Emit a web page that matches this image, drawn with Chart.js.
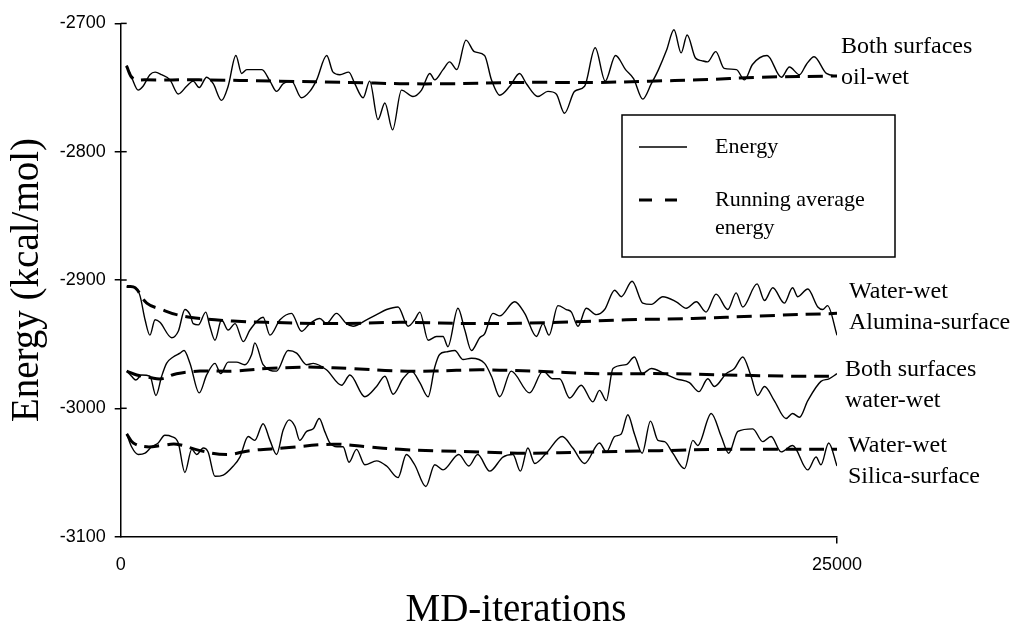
<!DOCTYPE html>
<html><head><meta charset="utf-8">
<script src="https://cdn.jsdelivr.net/npm/chart.js@4.4.0/dist/chart.umd.min.js"></script>
<style>html,body{margin:0;padding:0;background:#fff;}#wrap{width:1020px;height:634px;}</style>
</head><body><div id="wrap"><canvas id="c" width="1020" height="634"></canvas></div>
<script>
// ---- axis ticks ----
const xTicks = [0, 25000];
const yTicks = [-3100, -3000, -2900, -2800, -2700];

// ---- Both surfaces oil-wet ----
const oilX = [200,380,610,780,1020,1200,1430,1720,2010,2300,2530,2740,3000,3230,3520,3750,4020,4220,4400,4680,4930,5210,5440,5670,5960,6310,6600,6840,7190,7410,7650,7960,8170,8460,8690,8980,9220,9490,9800,10200,10500,10790,10960,11250,11480,11730,12050,12340,12700,12940,13230,13580,13920,14160,14560,14910,15200,15490,15840,16190,16560,16910,17270,17620,17900,18220,18520,18770,19050,19310,19560,19770,20060,20270,20480,20770,21060,21490,21770,22050,22560,23060,23340,23690,23930,24200,24630,25000];
const oilY = [-2733,-2742,-2752,-2749,-2740,-2738,-2740,-2744,-2755,-2749,-2745,-2750,-2742,-2747,-2760,-2749,-2725,-2739,-2736,-2736,-2736,-2745,-2753,-2747,-2745,-2758,-2753,-2744,-2725,-2738,-2740,-2738,-2747,-2758,-2745,-2775,-2762,-2783,-2752,-2757,-2752,-2739,-2744,-2736,-2730,-2736,-2713,-2722,-2725,-2744,-2756,-2749,-2739,-2747,-2757,-2753,-2755,-2770,-2753,-2749,-2719,-2745,-2725,-2736,-2743,-2759,-2747,-2736,-2721,-2705,-2723,-2709,-2727,-2729,-2730,-2722,-2735,-2736,-2744,-2732,-2725,-2742,-2734,-2740,-2732,-2726,-2739,-2741];
const oilAvgX = [200,430,850,2740,5550,8000,9740,11480,13920,16700,18450,20200,22300,25000];
const oilAvgY = [-2733,-2743,-2744,-2744,-2745,-2746,-2747,-2747,-2746,-2746,-2745,-2744,-2742,-2741];

// ---- Water-wet Alumina-surface ----
const aluX = [210,500,670,850,1020,1200,1370,1780,2010,2240,2420,2530,2710,2970,3110,3290,3520,3750,3990,4280,4510,4970,5210,5560,5960,6310,6600,6950,7180,7530,7880,8110,8580,8930,9280,9680,10030,10260,10440,10730,11020,11250,11420,11770,12010,12240,12530,12700,12990,13230,13750,14100,14510,14740,14950,15260,15550,15730,15960,16250,16600,16890,17240,17470,17850,18220,18520,18920,19390,19740,20090,20430,20780,21190,21480,21710,22210,22470,22760,23160,23450,23630,23980,24330,24500,24670,25000];
const aluY = [-2905,-2906,-2912,-2931,-2943,-2931,-2933,-2945,-2940,-2923,-2927,-2934,-2935,-2925,-2936,-2947,-2931,-2939,-2934,-2948,-2939,-2929,-2943,-2931,-2926,-2940,-2934,-2930,-2934,-2926,-2934,-2936,-2931,-2927,-2923,-2921,-2936,-2931,-2925,-2947,-2944,-2944,-2952,-2922,-2939,-2955,-2945,-2942,-2926,-2928,-2917,-2926,-2944,-2934,-2943,-2920,-2923,-2925,-2936,-2922,-2927,-2923,-2908,-2913,-2901,-2918,-2919,-2913,-2917,-2922,-2917,-2925,-2911,-2923,-2910,-2921,-2903,-2916,-2906,-2918,-2906,-2913,-2907,-2921,-2923,-2920,-2943];
const aluAvgX = [210,500,910,1430,1950,2770,3920,5090,7400,9740,12530,15320,17640,19970,22290,25000];
const aluAvgY = [-2905,-2906,-2918,-2923,-2927,-2930,-2932,-2933,-2934,-2933,-2934,-2933,-2931,-2930,-2928,-2926];

// ---- Both surfaces water-wet ----
const wwX = [210,380,530,730,1020,1230,1430,1600,1830,2070,2210,2420,2740,3000,3290,3490,3750,4040,4330,4570,4680,4970,5440,5840,6140,6490,6720,7180,7710,8000,8520,8930,9220,9510,9850,10150,10440,10730,10960,11130,11370,11660,11950,12240,12700,12940,13230,13630,14270,14740,15080,15320,15670,16070,16480,16710,16950,17180,17640,17930,18200,18520,18980,19390,19850,20180,20490,20720,21130,21420,21710,22000,22230,22470,22810,23220,23450,23690,23980,24440,24720,25000];
const wwY = [-2971,-2975,-2978,-2974,-2975,-2990,-2975,-2965,-2960,-2957,-2955,-2965,-2988,-2974,-2965,-2973,-2964,-2964,-2966,-2958,-2949,-2966,-2971,-2955,-2957,-2966,-2965,-2970,-2982,-2974,-2991,-2983,-2975,-2989,-2977,-2971,-2980,-2991,-2968,-2958,-2956,-2955,-2962,-2961,-2965,-2975,-2991,-2971,-2988,-2971,-2977,-2977,-2992,-2982,-2995,-2986,-2994,-2969,-2966,-2960,-2973,-2969,-2973,-2977,-2980,-2987,-2977,-2983,-2973,-2969,-2960,-2975,-2990,-2983,-2994,-3008,-3004,-3007,-2994,-2979,-2977,-2973];
const wwAvgX = [210,560,1020,1430,1950,2770,3930,5090,6250,6830,8000,9740,10900,12530,14360,16690,19010,21130,23450,25000];
const wwAvgY = [-2971,-2974,-2976,-2977,-2973,-2971,-2971,-2969,-2968,-2968,-2969,-2971,-2971,-2970,-2971,-2973,-2973,-2974,-2975,-2975];

// ---- Water-wet Silica-surface ----
const silX = [210,380,610,850,1080,1310,1540,1780,2010,2240,2480,2650,2880,3050,3290,3580,3930,4160,4450,4680,4970,5210,5440,5670,5880,6080,6250,6490,6720,6930,7120,7300,7550,7760,7970,8230,8520,8930,9280,9680,9970,10260,10650,10960,11250,11800,12150,12460,12880,13340,13690,13950,14210,14450,14850,15410,15780,16190,16710,16950,17240,17470,17700,17930,18200,18490,18750,18980,19270,19680,19970,20140,20610,20960,21220,21540,22060,22410,22700,23050,23450,23980,24270,24440,24710,25000];
const silY = [-3020,-3030,-3036,-3035,-3030,-3027,-3021,-3022,-3027,-3050,-3032,-3036,-3031,-3034,-3053,-3052,-3045,-3038,-3022,-3025,-3012,-3025,-3036,-3017,-3009,-3014,-3025,-3018,-3016,-3008,-3018,-3027,-3030,-3030,-3042,-3032,-3044,-3041,-3045,-3054,-3036,-3044,-3061,-3044,-3048,-3036,-3045,-3036,-3049,-3038,-3036,-3049,-3031,-3043,-3035,-3022,-3031,-3043,-3027,-3034,-3022,-3020,-3005,-3020,-3035,-3010,-3025,-3026,-3035,-3047,-3025,-3029,-3004,-3022,-3035,-3018,-3016,-3026,-3022,-3034,-3029,-3048,-3038,-3044,-3027,-3045];
const silAvgX = [210,440,910,1430,1950,2770,3700,4510,5670,7420,8580,9740,10900,12530,14160,16480,18800,21130,23450,25000];
const silAvgY = [-3020,-3027,-3030,-3029,-3028,-3033,-3036,-3033,-3031,-3028,-3030,-3032,-3033,-3034,-3035,-3034,-3033,-3032,-3032,-3032];

// ---- texts ----
const seriesLabels = [
  {lines: ['Both surfaces', 'oil-wet'], x: 841, y: 47},
  {lines: ['Water-wet', 'Alumina-surface'], x: 849, y: 292},
  {lines: ['Both surfaces', 'water-wet'], x: 845, y: 370},
  {lines: ['Water-wet', 'Silica-surface'], x: 848, y: 446}
];
const legendTexts = ['Energy', 'Running average', 'energy'];
const xTitle = 'MD-iterations';
const yTitle = 'Energy (kcal/mol)';

const zip = (xs, ys) => xs.map((x, i) => ({x: x, y: ys[i]}));
const SERIF = "'Liberation Serif', 'Times New Roman', serif";
const SANS = "'Liberation Sans', Arial, sans-serif";

function energyDs(xs, ys, name) {
  return {label: name, data: zip(xs, ys), borderColor: '#000', borderWidth: 1.4,
    pointRadius: 0, fill: false, cubicInterpolationMode: 'monotone'};
}
function avgDs(xs, ys, name) {
  return {label: name, data: zip(xs, ys), borderColor: '#000', borderWidth: 3,
    borderDash: [15, 8], pointRadius: 0, fill: false, tension: 0.4};
}

const textPlugin = {
  id: 'texts',
  afterDraw(chart) {
    const ctx = chart.ctx;
    const ca = chart.chartArea;
    const ys = chart.scales.y;
    ctx.save();
    // inner half of y ticks (ticks cross the axis)
    ctx.strokeStyle = '#000';
    ctx.lineWidth = 1.5;
    yTicks.forEach(v => {
      if (v === -3100) return;
      const py = ys.getPixelForValue(v);
      ctx.beginPath();
      ctx.moveTo(ca.left, py);
      ctx.lineTo(ca.left + 6, py);
      ctx.stroke();
    });
    ctx.fillStyle = '#000';
    ctx.textBaseline = 'middle';
    // axis titles
    ctx.font = '39px ' + SERIF;
    ctx.textAlign = 'center';
    ctx.fillText(xTitle, 516, 611);
    ctx.save();
    ctx.translate(28, 280);
    ctx.rotate(-Math.PI / 2);
    ctx.fillText(yTitle, 0, 0);
    ctx.restore();
    // series annotations
    ctx.textAlign = 'left';
    ctx.font = '24px ' + SERIF;
    seriesLabels.forEach(l => {
      l.lines.forEach((t, i) => ctx.fillText(t, l.x, l.y + i * 31));
    });
    // legend box
    ctx.lineWidth = 1.5;
    ctx.strokeRect(622, 115, 273, 142);
    ctx.lineWidth = 1.4;
    ctx.beginPath(); ctx.moveTo(639, 147); ctx.lineTo(687, 147); ctx.stroke();
    ctx.lineWidth = 3;
    ctx.beginPath(); ctx.moveTo(639, 200); ctx.lineTo(652, 200); ctx.moveTo(665, 200); ctx.lineTo(677, 200); ctx.stroke();
    ctx.font = '22px ' + SERIF;
    ctx.fillText(legendTexts[0], 715, 147);
    ctx.fillText(legendTexts[1], 715, 200);
    ctx.fillText(legendTexts[2], 715, 228);
    ctx.restore();
  }
};

new Chart(document.getElementById('c'), {
  type: 'line',
  data: {
    datasets: [
      energyDs(oilX, oilY, 'Both surfaces oil-wet'),
      avgDs(oilAvgX, oilAvgY, 'Both surfaces oil-wet (running average)'),
      energyDs(aluX, aluY, 'Water-wet Alumina-surface'),
      avgDs(aluAvgX, aluAvgY, 'Water-wet Alumina-surface (running average)'),
      energyDs(wwX, wwY, 'Both surfaces water-wet'),
      avgDs(wwAvgX, wwAvgY, 'Both surfaces water-wet (running average)'),
      energyDs(silX, silY, 'Water-wet Silica-surface'),
      avgDs(silAvgX, silAvgY, 'Water-wet Silica-surface (running average)')
    ]
  },
  options: {
    responsive: false,
    animation: false,
    devicePixelRatio: 1,
    layout: {padding: {left: 0, right: 183, top: 23.4, bottom: 0}},
    plugins: {legend: {display: false}, tooltip: {enabled: false}, title: {display: false}},
    scales: {
      x: {
        type: 'linear', min: 0, max: 25000,
        afterBuildTicks: s => { s.ticks = xTicks.map(v => ({value: v})); },
        afterFit: s => { s.height = 97.4; },
        ticks: {color: '#000', font: {family: SANS, size: 18}, padding: 11, maxRotation: 0,
          callback: v => String(v)},
        grid: {drawOnChartArea: false, tickLength: 7, lineWidth: 1.5,
          color: c => (c.tick && c.tick.value === 0) ? 'rgba(0,0,0,0)' : '#000'},
        border: {display: true, color: '#000', width: 1.5}
      },
      y: {
        type: 'linear', min: -3100, max: -2700,
        afterBuildTicks: s => { s.ticks = yTicks.map(v => ({value: v})); },
        afterFit: s => { s.width = 120.7; },
        ticks: {color: '#000', font: {family: SANS, size: 18}, padding: 9,
          callback: v => String(v)},
        grid: {drawOnChartArea: false, tickLength: 6, lineWidth: 1.5, color: '#000'},
        border: {display: true, color: '#000', width: 1.5}
      }
    }
  },
  plugins: [textPlugin]
});
</script>
</body></html>
